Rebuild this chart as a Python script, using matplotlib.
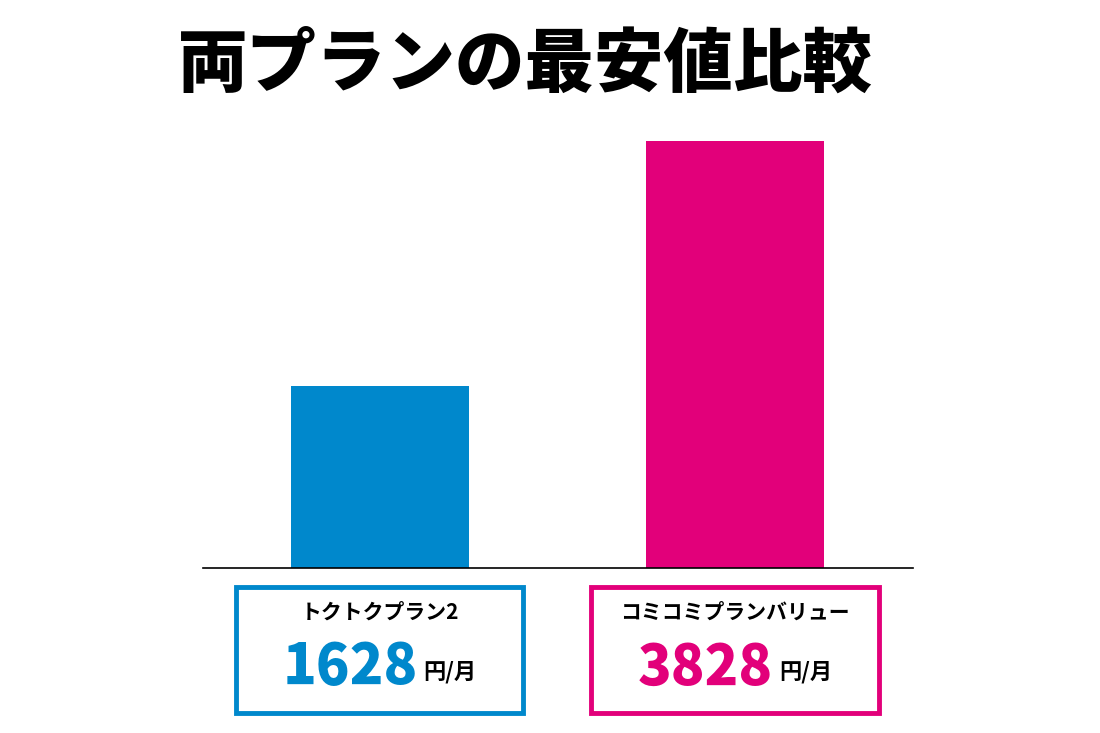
import matplotlib
matplotlib.use("Agg")
import matplotlib.pyplot as plt
from matplotlib.patches import Rectangle

plt.rcParams['font.family'] = ['Noto Sans CJK JP', 'DejaVu Sans']

title = "両プランの最安値比較"
plans = ["トクトクプラン2", "コミコミプランバリュー"]
values = [1628, 3828]
colors = ["#0088CC", "#E2007A"]
unit = "円/月"

fig = plt.figure(figsize=(11, 7.33), dpi=100)
W, H = 1100, 733
ax = fig.add_axes([203/W, 1-568/H, 710/W, (4000*427/3828)/H])
ax.bar(range(len(values)), values, width=178/355, color=colors)
ax.set_xlim(-177/355, (913-380)/355)
ax.set_ylim(0, 4000)
for s in ['top', 'right', 'left']:
    ax.spines[s].set_visible(False)
ax.spines['bottom'].set_linewidth(1.2)
ax.set_xticks([]); ax.set_yticks([])

fig.text(525/W, 1-65/H, title, ha='center', va='center', fontsize=50, fontweight='heavy')

boxes = [(236, 523), (591, 879)]
for (x0, x1), name, v, c in zip(boxes, plans, values, colors):
    fig.patches.append(Rectangle((x0/W, 1-713/H), (x1-x0)/W, 126/H, transform=fig.transFigure,
                                 fill=False, edgecolor=c, linewidth=3.5))
    cx = (x0+x1)/2
    fig.text(cx/W, 1-612/H, name, ha='center', va='center', fontsize=15, fontweight='bold')
    t = fig.text((cx+38)/W, 1-668/H, f"{v}", ha='right', va='center', fontsize=40,
                 fontweight='heavy', color=c)
    fig.text((cx+44)/W, 1-672/H, unit, ha='left', va='center', fontsize=16, fontweight='bold')

fig.savefig("out.png", dpi=100, facecolor='white')
